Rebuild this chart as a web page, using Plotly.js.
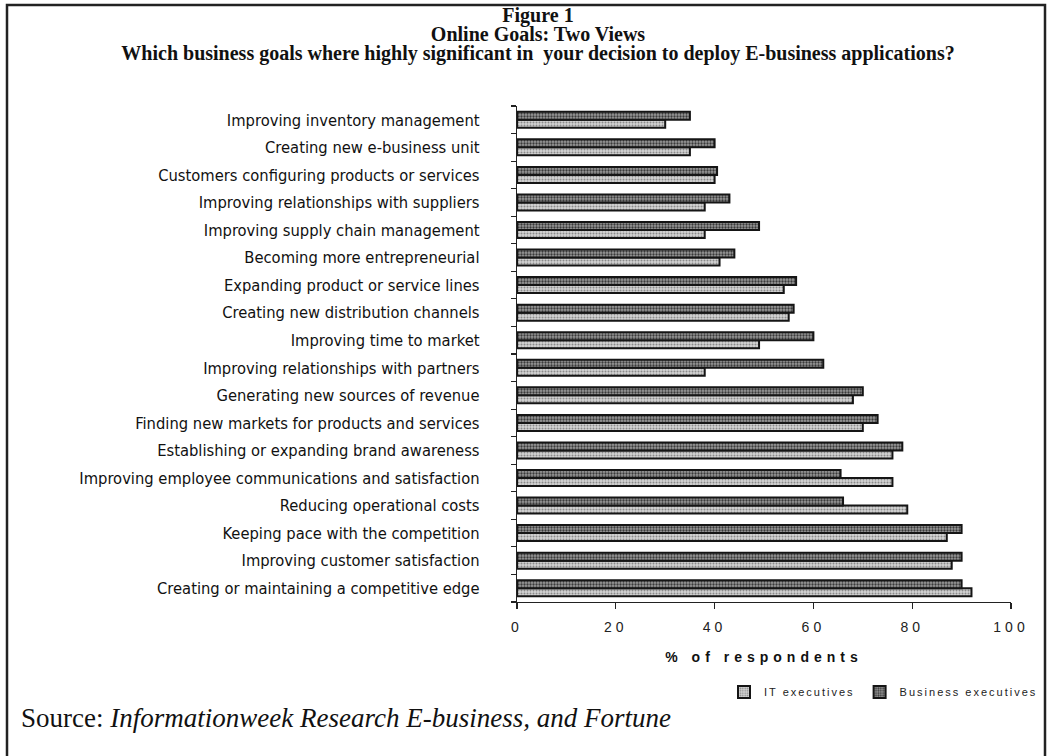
<!DOCTYPE html>
<html>
<head>
<meta charset="utf-8">
<script src="https://cdn.plot.ly/plotly-3.0.1.min.js"></script>
<style>
  html, body { margin: 0; padding: 0; background: #fff; }
  #chart { width: 1049px; height: 756px; }
  .xtick text { letter-spacing: 4px; }
  .g-xtitle text { letter-spacing: 5px; }
  .legendtext { letter-spacing: 2px; }
</style>
</head>
<body>
<div id="chart"></div>
<script>
// Categories listed bottom-to-top as drawn
var categories = [
  "Creating or maintaining a competitive edge",
  "Improving customer satisfaction",
  "Keeping pace with the competition",
  "Reducing operational costs",
  "Improving employee communications and satisfaction",
  "Establishing or expanding brand awareness",
  "Finding new markets for products and services",
  "Generating new sources of revenue",
  "Improving relationships with partners",
  "Improving time to market",
  "Creating new distribution channels",
  "Expanding product or service lines",
  "Becoming more entrepreneurial",
  "Improving supply chain management",
  "Improving relationships with suppliers",
  "Customers configuring products or services",
  "Creating new e-business unit",
  "Improving inventory management"
];
var itExecutives = [92, 88, 87, 79, 76, 76, 70, 68, 38, 49, 55, 54, 41, 38, 38, 40, 35, 30];
var businessExecutives = [90, 90, 90, 66, 65.5, 78, 73, 70, 62, 60, 56, 56.5, 44, 49, 43, 40.5, 40, 35];
var seriesNames = ["IT executives", "Business executives"];
var xTickValues = [0, 20, 40, 60, 80, 100];
var xTickLabels = ["0", "20", "40", "60", "80", "100"];
var titleLines = [
  "Figure 1",
  "Online Goals: Two Views",
  "Which business goals where highly significant in  your decision to deploy E-business applications?"
];

var traces = [
  {
    type: "bar", orientation: "h", name: seriesNames[0],
    y: categories, x: itExecutives,
    marker: {
      color: "#c4c4c4",
      line: { color: "#151515", width: 2 },
      pattern: { shape: ".", fgcolor: "#8a8a8a", bgcolor: "#d4d4d4", size: 3, solidity: 0.35 }
    },
    hoverinfo: "x+y"
  },
  {
    type: "bar", orientation: "h", name: seriesNames[1],
    y: categories, x: businessExecutives,
    marker: {
      color: "#6a6a6a",
      line: { color: "#151515", width: 2 },
      pattern: { shape: ".", fgcolor: "#3a3a3a", bgcolor: "#9a9a9a", size: 3, solidity: 0.45 }
    },
    hoverinfo: "x+y"
  }
];

var plotW = 1049 - 517 - 38, plotH = 756 - 106 - 154;

var layout = {
  width: 1049, height: 756,
  paper_bgcolor: "#ffffff", plot_bgcolor: "#ffffff",
  margin: { l: 517, r: 38, t: 106, b: 154, autoexpand: false },
  barmode: "group", bargap: 0.42, bargroupgap: 0,
  showlegend: true,
  title: {
    text: titleLines.map(function (s) { return "<span style='font-size:20px'>" + s + "</span>"; }).join("<br>"),
    font: { family: "Liberation Serif, Times New Roman, serif", size: 14.6, color: "#111", weight: "bold" },
    x: 538 / 1049, xanchor: "center", xref: "container",
    y: 1 - 22 / 756, yanchor: "top", yref: "container"
  },
  xaxis: {
    range: [0, 100], tickmode: "array", tickvals: xTickValues, ticktext: xTickLabels,
    showline: true, linecolor: "#222", linewidth: 1.2,
    ticks: "outside", ticklen: 6, tickcolor: "#222", tickwidth: 1.2,
    showgrid: false, zeroline: false, ticklabelstandoff: 6,
    tickfont: { family: "Liberation Sans, Arial, sans-serif", size: 14, color: "#222" },
    title: { text: "% of respondents", standoff: 18,
      font: { family: "Liberation Sans, Arial, sans-serif", size: 14, color: "#111", weight: "bold" } },
    fixedrange: true
  },
  yaxis: {
    type: "category", categoryorder: "array", categoryarray: categories,
    showline: true, linecolor: "#222", linewidth: 1.2,
    ticks: "outside", ticklen: 5, tickcolor: "#222", tickwidth: 1.2, tickson: "boundaries",
    showgrid: false, zeroline: false, ticklabelstandoff: 33,
    tickfont: { family: "Liberation Sans Narrow, Arial Narrow, DejaVu Sans Condensed, Liberation Sans, sans-serif", size: 16.4, color: "#111" },
    fixedrange: true
  },
  legend: {
    orientation: "h", xref: "container", yref: "container",
    x: 724 / 1049, xanchor: "left", y: 1 - 692 / 756, yanchor: "middle",
    font: { family: "Liberation Sans, Arial, sans-serif", size: 11, color: "#222" },
    bgcolor: "rgba(0,0,0,0)", itemwidth: 30, traceorder: "normal"
  },
  shapes: [{
    type: "rect", xref: "paper", yref: "paper",
    x0: (7 - 517) / plotW, x1: (1045 - 517) / plotW,
    y0: (602 - 770) / plotH, y1: (602 - 5) / plotH,
    line: { color: "#222", width: 2.5 }, fillcolor: "rgba(0,0,0,0)", layer: "below"
  }],
  annotations: [
    { xref: "paper", yref: "paper", x: (19 - 517) / plotW, xanchor: "left",
      y: (602 - 718) / plotH, yanchor: "middle", showarrow: false,
      text: "Source: <i>Informationweek Research E-business, and Fortune</i>",
      font: { family: "Liberation Serif, Times New Roman, serif", size: 27, color: "#111" } }
  ]
};

Plotly.newPlot("chart", traces, layout, { displayModeBar: false, staticPlot: true });
</script>
</body>
</html>
